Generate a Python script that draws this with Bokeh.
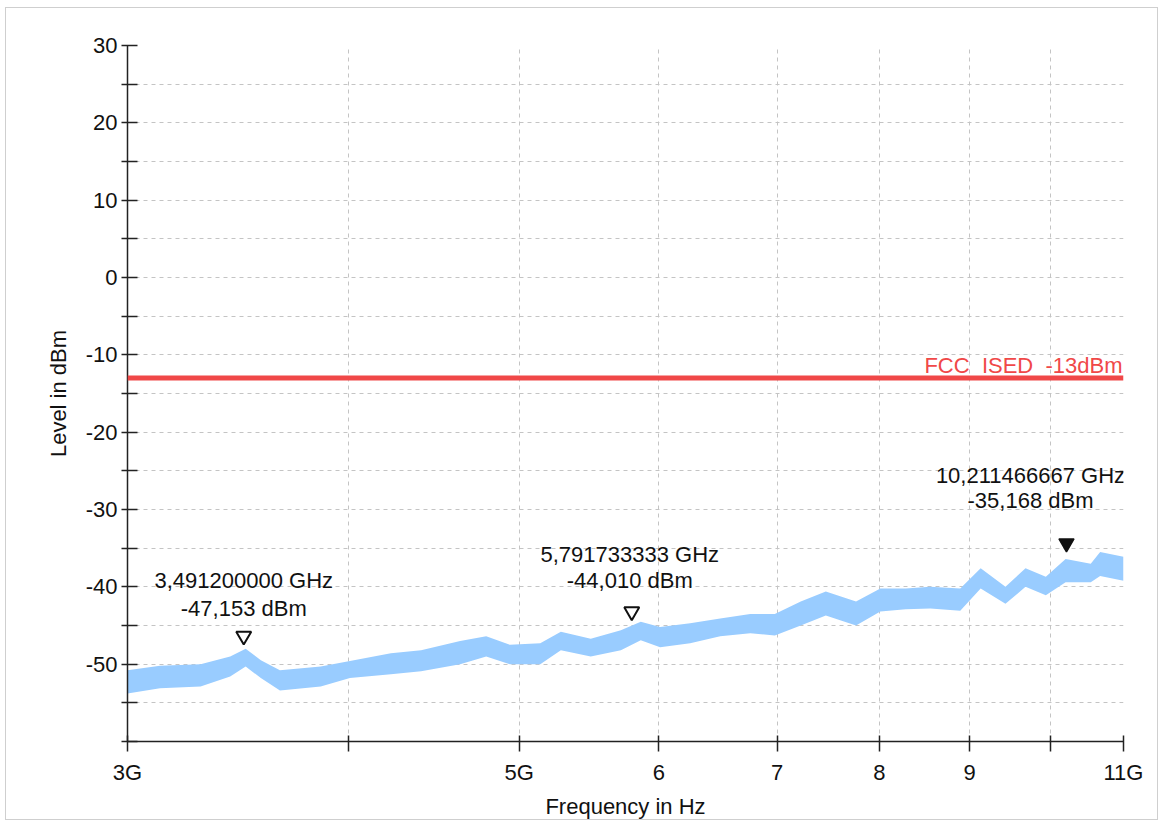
from bokeh.plotting import figure
from bokeh.models import Range1d, FixedTicker, ColumnDataSource, Span
from bokeh.core.properties import value
from bokeh.embed import file_html
from bokeh.resources import INLINE

# ---------------- data ----------------
freq_ghz = [3.00, 3.13, 3.30, 3.43, 3.50, 3.57, 3.66, 3.86, 4.01, 4.23, 4.40,
            4.63, 4.79, 4.94, 5.14, 5.28, 5.49, 5.71, 5.86, 6.01, 6.25, 6.50,
            6.76, 6.98, 7.22, 7.46, 7.76, 8.01, 8.28, 8.55, 8.89, 9.13, 9.43,
            9.68, 9.94, 10.20, 10.54, 10.67, 11.00]
level_upper = [-50.8, -50.2, -50.0, -49.0, -48.0, -49.5, -50.8, -50.3, -49.6, -48.6, -48.2,
               -47.0, -46.4, -47.5, -47.3, -45.8, -46.7, -45.6, -44.5, -45.2, -44.7, -44.1,
               -43.5, -43.5, -41.9, -40.6, -41.9, -40.2, -40.2, -40.0, -40.2, -37.6, -40.0,
               -37.6, -38.7, -36.4, -37.0, -35.5, -36.1]
level_lower = [-53.8, -53.1, -52.9, -51.6, -50.3, -51.8, -53.4, -52.9, -51.8, -51.3, -50.9,
               -50.0, -49.0, -50.0, -50.0, -48.2, -49.0, -48.2, -46.9, -47.8, -47.3, -46.4,
               -46.0, -46.3, -45.0, -43.7, -45.0, -43.2, -42.9, -42.8, -43.1, -40.2, -42.2,
               -40.0, -41.1, -39.4, -39.4, -38.6, -39.2]

marker_freq_ghz = [3.4912, 5.791733333, 10.211466667]
marker_level = [-47.153, -44.010, -35.168]
marker_freq_text = ["3,491200000 GHz", "5,791733333 GHz", "10,211466667 GHz"]
marker_level_text = ["-47,153 dBm", "-44,010 dBm", "-35,168 dBm"]

limit_level = -13
limit_text = "FCC_ISED_-13dBm"

x_ticks_ghz = [3, 4, 5, 6, 7, 8, 9, 10, 11]
x_tick_labels = ["3G", "", "5G", "6", "7", "8", "9", "", "11G"]
y_ticks = [-60, -55, -50, -45, -40, -35, -30, -25, -20, -15, -10, -5, 0, 5, 10, 15, 20, 25, 30]
y_tick_labels = ["", "", "-50", "", "-40", "", "-30", "", "-20", "", "-10", "", "0", "", "10", "", "20", "", "30"]

# ---------------- style ----------------
FONT = "Liberation Sans"
FS = "22px"
TRACE = "#99ccff"
RED = "#f04848"
GRID = "#c4c4c4"

p = figure(width=1153, height=813, x_axis_type="log",
           x_range=Range1d(3e9, 11e9), y_range=Range1d(-60, 30),
           output_backend="svg", toolbar_location=None,
           min_border_left=121, min_border_right=36, min_border_top=37, min_border_bottom=78)
p.styles = {"border": "1px solid #cfcfcf", "margin-left": "5px", "margin-top": "7px"}
p.outline_line_color = None
p.background_fill_color = "white"

# grid
p.xgrid.ticker = FixedTicker(ticks=[f * 1e9 for f in x_ticks_ghz])
p.ygrid.ticker = FixedTicker(ticks=y_ticks)
for g in (p.xgrid[0], p.ygrid[0]):
    g.grid_line_color = GRID
    g.grid_line_dash = "4 4"
    g.grid_line_width = 1

# axes
xa = p.xaxis[0]
xa.ticker = FixedTicker(ticks=[f * 1e9 for f in x_ticks_ghz], minor_ticks=[])
xa.major_label_overrides = {f * 1e9: lab for f, lab in zip(x_ticks_ghz, x_tick_labels)}
xa.major_tick_in = 6
xa.major_tick_out = 10
xa.minor_tick_line_color = None
xa.major_label_standoff = 8
xa.axis_label = "Frequency in Hz"
xa.axis_label_standoff = 6

ya = p.yaxis[0]
ya.ticker = FixedTicker(ticks=y_ticks, minor_ticks=[])
ya.major_label_overrides = {t: lab for t, lab in zip(y_ticks, y_tick_labels)}
ya.major_tick_in = 10
ya.major_tick_out = 6
ya.minor_tick_line_color = None
ya.major_label_standoff = 4
ya.axis_label = "Level in dBm"
ya.axis_label_standoff = 12

for a in (xa, ya):
    a.axis_line_color = "#222222"
    a.axis_line_width = 1.5
    a.major_tick_line_color = "#222222"
    a.major_tick_line_width = 1.5
    a.major_label_text_font = FONT
    a.major_label_text_font_size = FS
    a.major_label_text_color = "#111111"
    a.axis_label_text_font = FONT
    a.axis_label_text_font_size = FS
    a.axis_label_text_font_style = "normal"
    a.axis_label_text_color = "#111111"

# trace band
src = ColumnDataSource(dict(f=[v * 1e9 for v in freq_ghz], up=level_upper, lo=level_lower))
p.varea(x="f", y1="lo", y2="up", source=src, fill_color=TRACE, fill_alpha=1.0)

# limit line
p.add_layout(Span(location=limit_level, dimension="width", line_color=RED, line_width=5))
p.text(x=[11e9], y=[limit_level], text=[limit_text], text_align="right",
       text_baseline="bottom", x_offset=-1, y_offset=0,
       text_font=value(FONT), text_font_size=FS, text_color=RED)

# markers
mf = [v * 1e9 for v in marker_freq_ghz]
tri_lift = 0.8  # dB lift so the triangle apex sits on the measured level
my = [v + tri_lift for v in marker_level]
p.scatter(x=mf[:2], y=my[:2], marker="inverted_triangle", size=15,
          fill_color="white", line_color="#111111", line_width=2)
p.scatter(x=mf[2:], y=my[2:], marker="inverted_triangle", size=15,
          fill_color="#111111", line_color="#111111", line_width=1.5)

label_dx = [0, -2, -36]
label_dy1 = [-62, -63, -74]
label_dy2 = [-34, -37, -49]
for i in range(3):
    p.text(x=[mf[i]], y=[marker_level[i]], text=[marker_freq_text[i]],
           text_align="center", text_baseline="middle",
           x_offset=label_dx[i], y_offset=label_dy1[i],
           text_font=value(FONT), text_font_size=FS, text_color="#111111")
    p.text(x=[mf[i]], y=[marker_level[i]], text=[marker_level_text[i]],
           text_align="center", text_baseline="middle",
           x_offset=label_dx[i], y_offset=label_dy2[i],
           text_font=value(FONT), text_font_size=FS, text_color="#111111")

open("out.html", "w").write(file_html(p, INLINE))
